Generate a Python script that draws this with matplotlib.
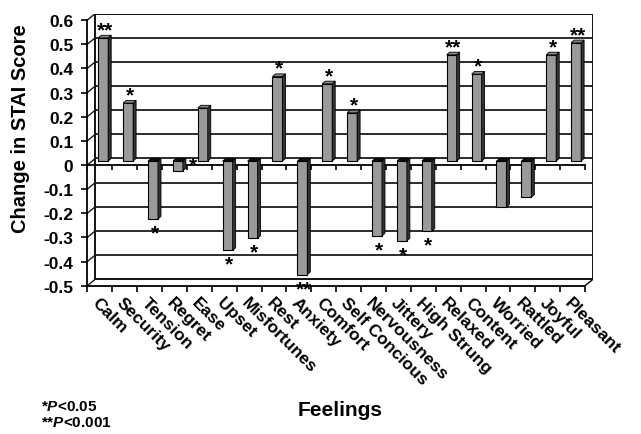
import numpy as np
import matplotlib
matplotlib.use('Agg')
import matplotlib.pyplot as plt
import matplotlib.transforms as mtransforms
from matplotlib.patches import Polygon, Rectangle

plt.rcParams['font.family'] = 'Liberation Sans'
plt.rcParams['mathtext.fontset'] = 'custom'
plt.rcParams['mathtext.bfit'] = 'Liberation Sans:italic:bold'
plt.rcParams['mathtext.rm'] = 'Liberation Sans:bold'

# data
feelings = ['Calm', 'Security', 'Tension', 'Regret', 'Ease', 'Upset', 'Misfortunes',
            'Rest', 'Anxiety', 'Comfort', 'Self Concious', 'Nervousness', 'Jittery',
            'High Strung', 'Relaxed', 'Content', 'Worried', 'Rattled', 'Joyful', 'Pleasant']
change = [0.51, 0.24, -0.24, -0.04, 0.22, -0.37, -0.32, 0.35, -0.47, 0.32,
          0.20, -0.31, -0.33, -0.29, 0.44, 0.36, -0.19, -0.15, 0.44, 0.49]
stars = ['**', '*', '*', '*', '', '*', '*', '*', '**', '*',
         '*', '*', '*', '*', '**', '*', '', '', '*', '**']
y_ticks = [0.6, 0.5, 0.4, 0.3, 0.2, 0.1, 0.0, -0.1, -0.2, -0.3, -0.4, -0.5]

# fake 3d geometry (data units)
ox, oy = 0.32, 0.027      # depth of back wall
bx, by = 0.14, 0.016      # bar placement inside the depth
w = 0.4
sx, sy = 0.12, 0.011      # bar side depth

fig = plt.figure(figsize=(6.41, 4.35), dpi=100)
ax = fig.add_axes([0.1362, 0.3409, 0.789, 0.6257])
ax.set_xlim(-0.5, 19.5 + ox)
ax.set_ylim(-0.5, 0.6 + oy)

for s in ['top', 'right']:
    ax.spines[s].set_visible(False)
ax.spines['left'].set_bounds(-0.5, 0.6)
ax.spines['bottom'].set_bounds(-0.5, 19.5)
for s in ['left', 'bottom']:
    ax.spines[s].set_linewidth(1.3)

# back wall + gridlines
ax.add_patch(Rectangle((-0.5 + ox, -0.5 + oy), 20, 1.1, facecolor='white',
                       edgecolor='black', lw=1.3, zorder=1))
for v in y_ticks:
    ax.plot([-0.5 + ox, 19.5 + ox], [v + oy, v + oy], color='#1a1a1a', lw=1.3, zorder=1)
    ax.plot([-0.5, -0.5 + ox], [v, v + oy], color='#1a1a1a', lw=1.0, zorder=1)
ax.plot([19.5, 19.5 + ox], [-0.5, -0.5 + oy], color='black', lw=1.0, zorder=1)

# front category axis at zero
ax.plot([-0.5, 19.5], [0, 0], color='black', lw=1.3, zorder=2)
ax.vlines(np.arange(21) - 0.5, -0.02, 0, color='black', lw=1.2, zorder=2)

x = np.arange(len(feelings))
ax.bar(x + bx, change, width=w, bottom=by, color='#9a9a9a',
       edgecolor='black', linewidth=0.8, zorder=3)

for i, v in enumerate(change):
    xl = i + bx - w / 2
    xr = i + bx + w / 2
    side = [(xr, by), (xr + sx, by + sy), (xr + sx, v + by + sy), (xr, v + by)]
    ax.add_patch(Polygon(side, closed=True, facecolor='#333333', edgecolor='black',
                         lw=0.6, zorder=3))
    ytop = max(v, 0) + by
    top = [(xl, ytop), (xr, ytop), (xr + sx, ytop + sy), (xl + sx, ytop + sy)]
    ax.add_patch(Polygon(top, closed=True,
                         facecolor='#888888' if v > 0 else '#111111',
                         edgecolor='black', lw=0.6, zorder=3))
    if not stars[i]:
        continue
    kw = dict(textcoords='offset points', ha='center', va='center', fontsize=15,
              fontweight='bold', zorder=4)
    if abs(v) < 0.05:
        ax.annotate(stars[i], (i + 0.75, by), xytext=(0, -3), **kw)
    elif v > 0:
        ax.annotate(stars[i], (i + bx + sx / 2, v + by + sy), xytext=(0, 4), **kw)
    else:
        ax.annotate(stars[i], (i + bx + sx / 2, v + by), xytext=(0, -10), **kw)

ax.set_yticks(y_ticks)
ax.set_yticklabels([f'{v:g}' for v in y_ticks], fontsize=12.5, fontweight='bold')
ax.tick_params(axis='y', length=4, width=1.2, pad=6)

ax.set_xticks(x)
ax.set_xticklabels(feelings, rotation=-45, ha='left', va='top', rotation_mode='anchor',
                   fontsize=12.5, fontweight='bold')
shift = mtransforms.ScaledTranslation(4 / 100, -3 / 100, fig.dpi_scale_trans)
for lab in ax.get_xticklabels():
    lab.set_transform(lab.get_transform() + shift)
ax.set_xticks(np.arange(21) - 0.5, minor=True)
ax.tick_params(axis='x', which='major', length=0, pad=6)
ax.tick_params(axis='x', which='minor', length=4, width=1.2)

fig.text(21 / 641, 1 - 129 / 435, 'Change in STAI Score', rotation=90, ha='center',
         va='center', fontsize=14.5, fontweight='bold')
fig.text(340 / 641, 1 - 411 / 435, 'Feelings', ha='center', va='center',
         fontsize=15, fontweight='bold')
fig.text(41 / 641, 1 - 407 / 435, r'*$\mathbfit{P}$<0.05', ha='left', va='center',
         fontsize=11, fontweight='bold')
fig.text(41 / 641, 1 - 423 / 435, r'**$\mathbfit{P}$<0.001', ha='left', va='center',
         fontsize=11, fontweight='bold')

fig.savefig('out.png', dpi=100)
